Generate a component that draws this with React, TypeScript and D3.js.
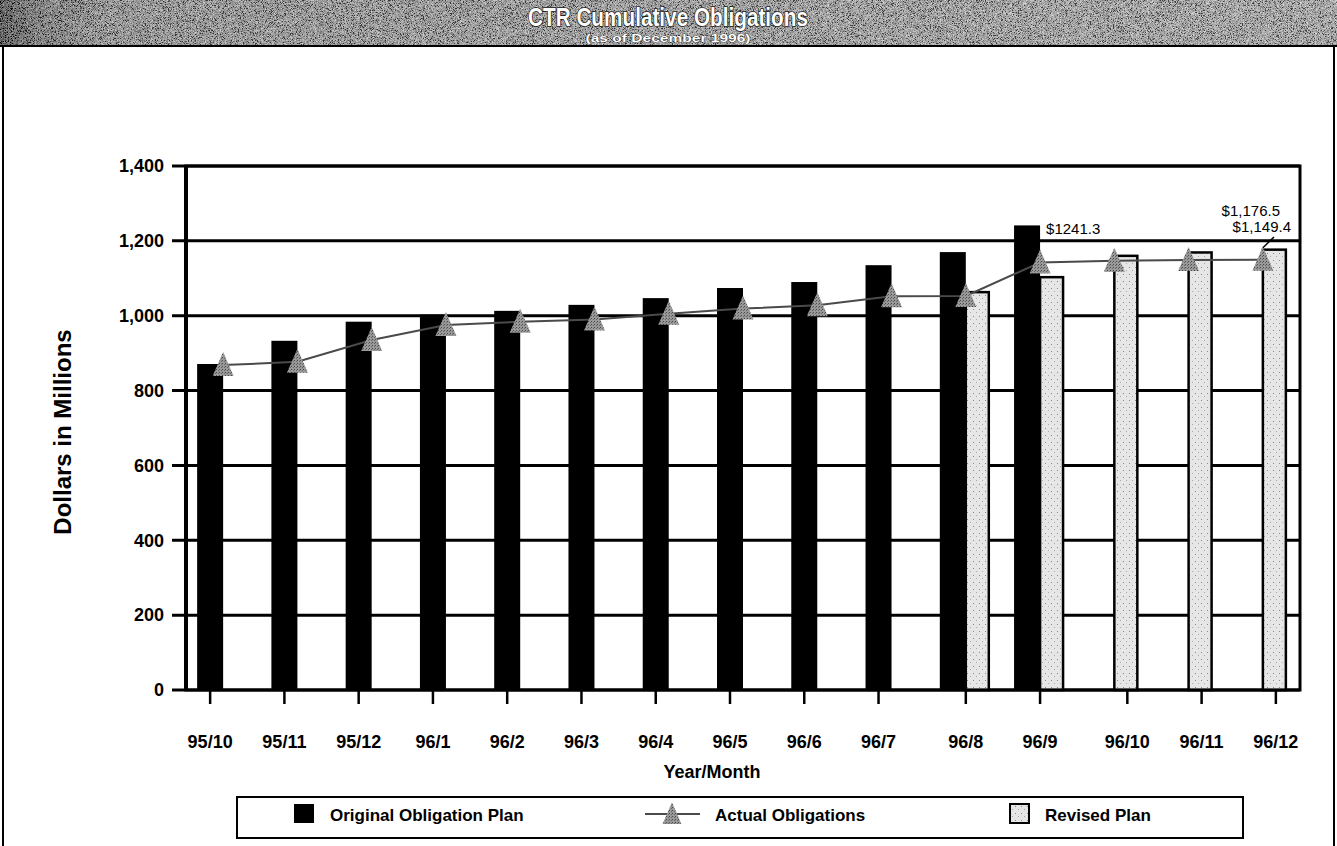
import React from "react";
import * as d3 from "d3";

// Monthly categories (fiscal year/month)
const categories = [
  "95/10", "95/11", "95/12", "96/1", "96/2", "96/3", "96/4", "96/5",
  "96/6", "96/7", "96/8", "96/9", "96/10", "96/11", "96/12",
];

// Cumulative obligations, $ millions
const originalPlan: (number | null)[] = [
  871, 933, 984, 1003, 1013, 1029, 1047, 1074, 1090, 1135, 1170, 1241.3,
  null, null, null,
];
const revisedPlan: (number | null)[] = [
  null, null, null, null, null, null, null, null, null, null,
  1063, 1103, 1160, 1169, 1176.5,
];
const actualObligations: number[] = [
  868, 877, 935, 975, 984, 990, 1005, 1019, 1028, 1052, 1053, 1142,
  1147, 1149, 1149.4,
];

const yTicks = [0, 200, 400, 600, 800, 1000, 1200, 1400];

const W = 1337;
const H = 846;
const FONT = "'Liberation Sans', Arial, Helvetica, sans-serif";

const plot = { left: 186, right: 1300, top: 166, bottom: 690 };

const x = d3
  .scaleBand<string>()
  .domain(categories)
  .range([plot.left, plot.right])
  .paddingInner(0)
  .paddingOuter(0);

const BAR = 26;
const sub = d3
  .scaleBand<string>()
  .domain(["original", "revised"])
  .range([x.bandwidth() / 2 - BAR, x.bandwidth() / 2 + BAR]);

const y = d3.scaleLinear().domain([0, 1400]).range([plot.bottom, plot.top]);

const fmt = d3.format(",");

function triPath(cx: number, cy: number, s = 1) {
  const p = d3.path();
  p.moveTo(cx, cy - 13 * s);
  p.lineTo(cx + 10.5 * s, cy + 11 * s);
  p.lineTo(cx - 10.5 * s, cy + 11 * s);
  p.closePath();
  return p.toString();
}

export default function App() {
  const mid = (c: string) => (x(c) as number) + x.bandwidth() / 2;

  // tick sits under the middle of whatever bars a month has
  const tickX = categories.map((c, i) => {
    const centers: number[] = [];
    if (originalPlan[i] != null)
      centers.push((x(c) as number) + (sub("original") as number) + sub.bandwidth() / 2);
    if (revisedPlan[i] != null)
      centers.push((x(c) as number) + (sub("revised") as number) + sub.bandwidth() / 2);
    return d3.mean(centers) as number;
  });

  const line = d3
    .line<number>()
    .x((_, i) => mid(categories[i]))
    .y((d) => y(d));

  const last = categories.length - 1;
  const peakIdx = originalPlan.indexOf(d3.max(originalPlan as number[]) as number);

  return (
    <svg
      width={W}
      height={H}
      style={{ position: "absolute", left: 0, top: 0, background: "#fff" }}
      fontFamily={FONT}
    >
      <defs>
        <linearGradient id="hdrShade" x1="0" x2="1" y1="0" y2="0">
          <stop offset="0" stopColor="#000" />
          <stop offset="0.01" stopColor="#1e1e1e" />
          <stop offset="0.03" stopColor="#505050" />
          <stop offset="0.08" stopColor="#808080" />
          <stop offset="0.4" stopColor="#8e8e8e" />
          <stop offset="0.75" stopColor="#9c9c9c" />
          <stop offset="1" stopColor="#a2a2a2" />
        </linearGradient>
        <filter id="grain" x="0" y="0" width="100%" height="100%">
          <feTurbulence type="fractalNoise" baseFrequency="1.4" numOctaves="2" seed="7" />
          <feColorMatrix
            type="matrix"
            values="0.33 0.33 0.33 0 0  0.33 0.33 0.33 0 0  0.33 0.33 0.33 0 0  0 0 0 0 1"
          />
          <feComponentTransfer>
            <feFuncR type="linear" slope="4" intercept="-1.6" />
            <feFuncG type="linear" slope="4" intercept="-1.6" />
            <feFuncB type="linear" slope="4" intercept="-1.6" />
            <feFuncA type="linear" slope="0.6" intercept="0" />
          </feComponentTransfer>
        </filter>
        <pattern id="stipple" width="6" height="7" patternUnits="userSpaceOnUse">
          <rect width="6" height="7" fill="#e6e6e6" />
          <rect x="1" y="1" width="1" height="1" fill="#8a8a8a" />
          <rect x="4" y="4" width="1" height="1" fill="#aaa" />
        </pattern>
        <pattern id="triDots" width="3" height="3" patternUnits="userSpaceOnUse">
          <rect width="3" height="3" fill="#999" />
          <rect x="0" y="0" width="1" height="1" fill="#4a4a4a" />
          <rect x="2" y="1" width="1" height="1" fill="#666" />
        </pattern>
      </defs>

      {/* header band */}
      <rect x={0} y={0} width={W} height={45} fill="url(#hdrShade)" />
      <rect x={0} y={0} width={W} height={45} filter="url(#grain)" />
      <line x1={0} x2={W} y1={46} y2={46} stroke="#000" strokeWidth={2} />
      <line x1={3} x2={3} y1={45} y2={H} stroke="#000" strokeWidth={2} />
      <line x1={1334} x2={1334} y1={45} y2={H} stroke="#000" strokeWidth={2} />

      <text
        x={668}
        y={26}
        textAnchor="middle"
        fontSize={25}
        fontWeight="bold"
        fill="#fff"
        stroke="#1a1a1a"
        strokeWidth={1.6}
        paintOrder="stroke"
        textLength={280}
        lengthAdjust="spacingAndGlyphs"
      >
        CTR Cumulative Obligations
      </text>
      <text
        x={668}
        y={42}
        textAnchor="middle"
        fontSize={11}
        fontWeight="bold"
        fill="#fff"
        stroke="#1a1a1a"
        strokeWidth={0.7}
        paintOrder="stroke"
        textLength={165}
        lengthAdjust="spacingAndGlyphs"
      >
        (as of December 1996)
      </text>

      {/* gridlines and y ticks */}
      {yTicks.map((t) => (
        <g key={t}>
          <line
            x1={plot.left - 14}
            x2={plot.right}
            y1={y(t)}
            y2={y(t)}
            stroke="#000"
            strokeWidth={3}
          />
          <text
            x={plot.left - 22}
            y={y(t)}
            dy="0.35em"
            textAnchor="end"
            fontSize={18}
            fontWeight="bold"
          >
            {fmt(t)}
          </text>
        </g>
      ))}

      {/* original plan bars */}
      {categories.map((c, i) =>
        originalPlan[i] == null ? null : (
          <rect
            key={"o" + c}
            x={(x(c) as number) + (sub("original") as number)}
            y={y(originalPlan[i] as number)}
            width={sub.bandwidth()}
            height={y(0) - y(originalPlan[i] as number)}
            fill="#000"
          />
        )
      )}

      {/* revised plan bars */}
      {categories.map((c, i) =>
        revisedPlan[i] == null ? null : (
          <rect
            key={"r" + c}
            x={(x(c) as number) + (sub("revised") as number)}
            y={y(revisedPlan[i] as number)}
            width={sub.bandwidth() - 3}
            height={y(0) - y(revisedPlan[i] as number)}
            fill="url(#stipple)"
            stroke="#000"
            strokeWidth={2.5}
          />
        )
      )}

      {/* plot frame */}
      <rect
        x={plot.left}
        y={plot.top}
        width={plot.right - plot.left}
        height={plot.bottom - plot.top}
        fill="none"
        stroke="#000"
        strokeWidth={3}
      />
      <line x1={plot.left} x2={plot.left} y1={plot.top} y2={plot.bottom} stroke="#000" strokeWidth={4} />

      {/* x ticks and labels */}
      {categories.map((c, i) => (
        <g key={"t" + c}>
          <line
            x1={tickX[i]}
            x2={tickX[i]}
            y1={plot.bottom}
            y2={plot.bottom + 14}
            stroke="#000"
            strokeWidth={2.5}
          />
          <text x={tickX[i]} y={748} textAnchor="middle" fontSize={18} fontWeight="bold">
            {c}
          </text>
        </g>
      ))}

      {/* actual obligations line */}
      <path d={line(actualObligations) as string} fill="none" stroke="#4a4a4a" strokeWidth={2} />
      {actualObligations.map((v, i) => (
        <path key={"a" + i} d={triPath(mid(categories[i]), y(v))} fill="url(#triDots)" />
      ))}

      {/* value callouts */}
      <text
        x={(x(categories[peakIdx]) as number) + (sub("original") as number) + sub.bandwidth() + 6}
        y={y(originalPlan[peakIdx] as number) + 9}
        fontSize={15}
      >
        {"$" + originalPlan[peakIdx]}
      </text>
      <text x={1280} y={216} textAnchor="end" fontSize={15}>
        {"$" + d3.format(",.1f")(revisedPlan[last] as number)}
      </text>
      <text x={1291} y={232} textAnchor="end" fontSize={15}>
        {"$" + d3.format(",.1f")(actualObligations[last])}
      </text>
      <line
        x1={1274}
        y1={237}
        x2={mid(categories[last])}
        y2={y(actualObligations[last]) - 12}
        stroke="#000"
        strokeWidth={1.5}
      />

      {/* axis titles */}
      <text
        transform={`translate(71,${(plot.top + plot.bottom) / 2 + 4}) rotate(-90)`}
        textAnchor="middle"
        fontSize={24}
        fontWeight="bold"
      >
        Dollars in Millions
      </text>
      <text x={712} y={778} textAnchor="middle" fontSize={18} fontWeight="bold">
        Year/Month
      </text>

      {/* legend */}
      <rect x={237} y={797} width={1006} height={41} fill="#fff" stroke="#000" strokeWidth={2} />
      <rect x={294} y={804} width={20} height={19} fill="#000" />
      <text x={330} y={821} fontSize={17} fontWeight="bold">
        Original Obligation Plan
      </text>
      <line x1={645} x2={700} y1={814} y2={814} stroke="#4a4a4a" strokeWidth={2} />
      <path d={triPath(672, 814, 0.9)} fill="url(#triDots)" />
      <text x={715} y={821} fontSize={17} fontWeight="bold">
        Actual Obligations
      </text>
      <rect x={1010} y={804} width={19} height={19} fill="url(#stipple)" stroke="#000" strokeWidth={2} />
      <text x={1045} y={821} fontSize={17} fontWeight="bold">
        Revised Plan
      </text>
    </svg>
  );
}
